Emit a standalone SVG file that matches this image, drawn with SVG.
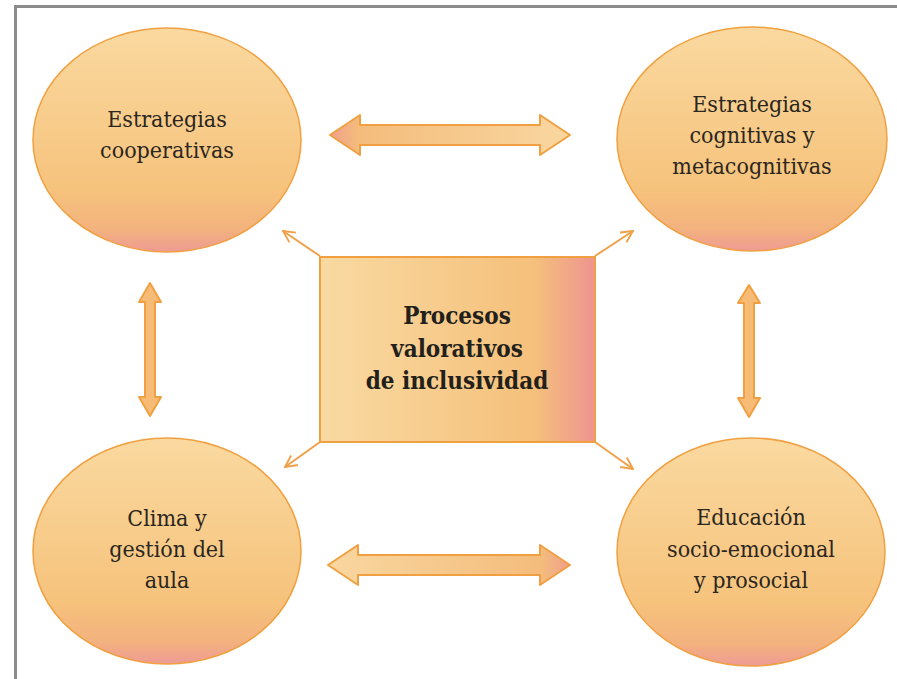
<svg xmlns="http://www.w3.org/2000/svg" width="897" height="679" viewBox="0 0 897 679">
  <defs>
    <linearGradient id="ovalFill" x1="0" y1="0" x2="0" y2="1">
      <stop offset="0" stop-color="#FAD9A0"/>
      <stop offset="0.72" stop-color="#F6C37C"/>
      <stop offset="0.9" stop-color="#F3B27E"/>
      <stop offset="1" stop-color="#EE9B94"/>
    </linearGradient>
    <linearGradient id="boxFill" x1="0" y1="0" x2="1" y2="0">
      <stop offset="0" stop-color="#F9DAA2"/>
      <stop offset="0.78" stop-color="#F5C07B"/>
      <stop offset="1" stop-color="#EE9490"/>
    </linearGradient>
    <linearGradient id="arrowRtoL" x1="0" y1="0" x2="1" y2="0">
      <stop offset="0" stop-color="#EFA08C"/>
      <stop offset="0.12" stop-color="#F4BC7C"/>
      <stop offset="1" stop-color="#F9D7A0"/>
    </linearGradient>
    <linearGradient id="arrowLtoR" x1="0" y1="0" x2="1" y2="0">
      <stop offset="0" stop-color="#F9D7A0"/>
      <stop offset="0.88" stop-color="#F4BC7C"/>
      <stop offset="1" stop-color="#EFA08C"/>
    </linearGradient>
    <marker id="openHead" viewBox="0 0 12 12" refX="11" refY="6" markerWidth="14" markerHeight="14" markerUnits="userSpaceOnUse" orient="auto">
      <path d="M1,1 L11,6 L1,11" fill="none" stroke="#F0A048" stroke-width="1.6"/>
    </marker>
  </defs>
  <style>
    text { font-family: "DejaVu Serif Condensed", "DejaVu Serif", serif; font-stretch: condensed; }
    .oval { fill: url(#ovalFill); stroke: #F0A040; stroke-width: 1.5; }
    .box { fill: url(#boxFill); stroke: #F0A040; stroke-width: 2; }
    .label { font-size: 23px; fill: #2b2620; text-anchor: middle; }
    .title { font-size: 24px; font-weight: bold; fill: #231f1a; text-anchor: middle; }
    .dbl { stroke: #F0A040; stroke-width: 2; stroke-linejoin: round; }
    .vert { fill: #F6BC76; }
    .spoke { stroke: #F0A048; stroke-width: 2; fill: none; marker-end: url(#openHead); }
  </style>

  <rect width="897" height="679" fill="#ffffff"/>
  <!-- frame edges -->
  <line x1="14" y1="6.5" x2="897" y2="6.5" stroke="#8c8c8c" stroke-width="3"/>
  <line x1="15.5" y1="5" x2="15.5" y2="679" stroke="#8c8c8c" stroke-width="3"/>

  <g id="connectors">
    <polygon class="dbl" fill="url(#arrowRtoL)" points="330,135 360,115 360,125 540,125 540,115 570,135 540,155 540,145 360,145 360,155"/>
    <polygon class="dbl" fill="url(#arrowLtoR)" points="328,565 358,545 358,555 540,555 540,545 570,565 540,585 540,575 358,575 358,585"/>
    <polygon class="dbl vert" points="150,283 161,302 155,302 155,397 161,397 150,416 139,397 145,397 145,302 139,302"/>
    <polygon class="dbl vert" points="749,285 760,303 754,303 754,398 760,398 749,417 738,398 744,398 744,303 738,303"/>
    <line class="spoke" x1="320" y1="256" x2="283" y2="231"/>
    <line class="spoke" x1="595" y1="256" x2="633" y2="231"/>
    <line class="spoke" x1="320" y1="442" x2="285" y2="467"/>
    <line class="spoke" x1="595" y1="442" x2="633" y2="469"/>
  </g>

  <g id="node-cooperativas">
    <ellipse class="oval" cx="167" cy="140" rx="134" ry="112"/>
    <text class="label" x="167" y="127">Estrategias</text>
    <text class="label" x="167" y="158">cooperativas</text>
  </g>

  <g id="node-cognitivas">
    <ellipse class="oval" cx="752" cy="139" rx="135" ry="112"/>
    <text class="label" x="752" y="112">Estrategias</text>
    <text class="label" x="752" y="143">cognitivas y</text>
    <text class="label" x="752" y="174">metacognitivas</text>
  </g>

  <g id="node-clima">
    <ellipse class="oval" cx="167" cy="551" rx="134" ry="113"/>
    <text class="label" x="167" y="526">Clima y</text>
    <text class="label" x="167" y="557">gestión del</text>
    <text class="label" x="167" y="588">aula</text>
  </g>

  <g id="node-socioemocional">
    <ellipse class="oval" cx="751" cy="552" rx="134" ry="114"/>
    <text class="label" x="751" y="525">Educación</text>
    <text class="label" x="751" y="557">socio-emocional</text>
    <text class="label" x="751" y="588">y prosocial</text>
  </g>

  <g id="node-procesos">
    <rect class="box" x="320" y="257" width="275" height="185"/>
    <text class="title" x="457" y="324">Procesos</text>
    <text class="title" x="457" y="357">valorativos</text>
    <text class="title" x="457" y="389">de inclusividad</text>
  </g>
</svg>
